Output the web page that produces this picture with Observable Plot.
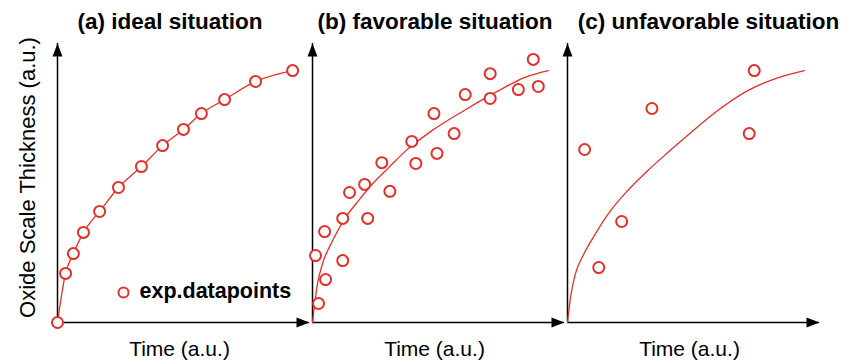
<!DOCTYPE html>
<html><head><meta charset="utf-8">
<script src="https://cdn.jsdelivr.net/npm/d3@7"></script>
<script src="https://cdn.jsdelivr.net/npm/@observablehq/plot@0.6"></script>
<style>body{margin:0;background:#fff}</style>
</head><body><div id="chart"></div>
<script>
// ---- data (arbitrary units) ----
const panels = ["a", "b", "c"];
const titles = ["(a) ideal situation", "(b) favorable situation", "(c) unfavorable situation"];
const xLabel = "Time (a.u.)";
const yLabel = "Oxide Scale Thickness (a.u.)";
const legendLabel = "exp.datapoints";
const axisMax = 10;

// (a) ideal situation: data points (the fit passes through them)
const pointsA_t = [0, 0.32, 0.63, 1.03, 1.67, 2.42, 3.33, 4.17, 5.0, 5.71, 6.63, 7.86, 9.33];
const pointsA_v = [0, 1.76, 2.47, 3.23, 3.98, 4.84, 5.59, 6.34, 6.92, 7.49, 7.99, 8.64, 9.03];
const fitA_t = [0, 0.32, 0.63, 1.03, 1.67, 2.42, 3.33, 4.17, 5.0, 5.71, 6.63, 7.86, 9.33];
const fitA_v = [0, 1.76, 2.47, 3.23, 3.98, 4.84, 5.59, 6.34, 6.92, 7.49, 7.99, 8.64, 9.03];

// (b) favorable situation
const pointsB_t = [0.24, 0.52, 0.12, 1.20, 0.48, 1.20, 1.47, 2.07, 2.19, 2.75, 3.07, 3.94, 4.10, 4.82, 4.94, 5.62, 6.06, 7.05, 7.05, 8.17, 8.76, 8.96];
const pointsB_v = [0.68, 1.54, 2.40, 2.22, 3.26, 3.73, 4.66, 4.95, 3.73, 5.73, 4.70, 6.49, 5.70, 7.49, 6.06, 6.77, 8.17, 8.92, 8.03, 8.35, 9.43, 8.46];
const fitB_t = [0, 0.2, 0.4, 0.8, 1.31, 1.83, 2.39, 3.03, 3.71, 4.70, 6.02, 7.37, 8.41, 9.36];
const fitB_v = [0, 1.40, 2.11, 2.94, 3.76, 4.37, 4.98, 5.56, 6.16, 6.85, 7.60, 8.30, 8.78, 9.03];

// (c) unfavorable situation
const pointsC_t = [0.68, 1.24, 2.15, 3.35, 7.21, 7.41];
const pointsC_v = [6.20, 1.97, 3.62, 7.67, 6.77, 9.03];
const fitC_t = [0, 0.12, 0.32, 0.64, 1.04, 1.71, 2.39, 3.19, 3.98, 4.90, 5.82, 7.17, 8.37, 9.40];
const fitC_v = [0, 0.90, 1.76, 2.44, 3.08, 4.01, 4.73, 5.45, 6.09, 6.81, 7.50, 8.32, 8.78, 9.03];

// ---- tables ----
const rows = (panel, ts, vs) => ts.map((t, i) => ({panel, t, v: vs[i]}));
const points = [
  ...rows("a", pointsA_t, pointsA_v),
  ...rows("b", pointsB_t, pointsB_v),
  ...rows("c", pointsC_t, pointsC_v)
];
const fits = [
  ...rows("a", fitA_t, fitA_v),
  ...rows("b", fitB_t, fitB_v),
  ...rows("c", fitC_t, fitC_v)
];

const red = "#e3302a";
const font = "'Liberation Sans', Arial, Helvetica, sans-serif";

// filled arrowheads (tip at the symbol's anchor)
const arrowUp = {draw(ctx) { ctx.moveTo(0, 0); ctx.lineTo(5, 13); ctx.lineTo(-5, 13); ctx.closePath(); }};
const arrowRight = {draw(ctx) { ctx.moveTo(0, 0); ctx.lineTo(-13, 5); ctx.lineTo(-13, -5); ctx.closePath(); }};

const titleMark = (i, dx) => Plot.text([titles[i]], {
  fx: [panels[i]], frameAnchor: "top", textAnchor: "middle", lineAnchor: "bottom",
  dy: -15, dx, fontSize: 22.5, fontWeight: "bold", fill: "black"
});

const chart = Plot.plot({
  width: 842,
  height: 363,
  marginLeft: 56,
  marginRight: 23,
  marginTop: 43,
  marginBottom: 41,
  style: {fontFamily: font, background: "white", overflow: "visible"},
  fx: {domain: panels, paddingInner: 0.0137, paddingOuter: 0, axis: null},
  x: {domain: [0, axisMax], axis: null},
  y: {domain: [0, axisMax], axis: null},
  marks: [
    Plot.ruleY([0], {stroke: "black", strokeWidth: 1.5}),
    Plot.ruleX([0], {stroke: "black", strokeWidth: 1.5}),
    Plot.dot([{t: 0, v: axisMax}], {x: "t", y: "v", symbol: arrowUp, fill: "black", stroke: "none"}),
    Plot.dot([{t: axisMax, v: 0}], {x: "t", y: "v", symbol: arrowRight, fill: "black", stroke: "none"}),
    Plot.line(fits, {x: "t", y: "v", fx: "panel", z: "panel", stroke: red, strokeWidth: 1.3, curve: "monotone-x"}),
    Plot.dot(points, {x: "t", y: "v", fx: "panel", r: 5.5, stroke: red, strokeWidth: 2, fill: "white"}),
    // legend
    Plot.dot([legendLabel], {fx: ["a"], frameAnchor: "bottom-left", dx: 66, dy: -30, r: 5, stroke: red, strokeWidth: 2, fill: "white"}),
    Plot.text([legendLabel], {fx: ["a"], frameAnchor: "bottom-left", dx: 82, dy: -25, textAnchor: "start", lineAnchor: "bottom", fontSize: 21.5, fontWeight: "bold", fill: "black"}),
    // titles
    titleMark(0, -13.5),
    titleMark(1, -3.5),
    titleMark(2, 15),
    // x labels
    Plot.text(panels, {fx: (d) => d, text: () => xLabel, frameAnchor: "bottom", textAnchor: "middle", lineAnchor: "bottom", dy: 33, dx: -4, fontSize: 21, fill: "black"}),
    // y label
    Plot.text([yLabel], {fx: ["a"], frameAnchor: "left", rotate: -90, textAnchor: "middle", lineAnchor: "bottom", dx: -23, dy: -5.5, fontSize: 22, fill: "black"})
  ]
});
document.getElementById("chart").append(chart);
</script>
</body></html>
